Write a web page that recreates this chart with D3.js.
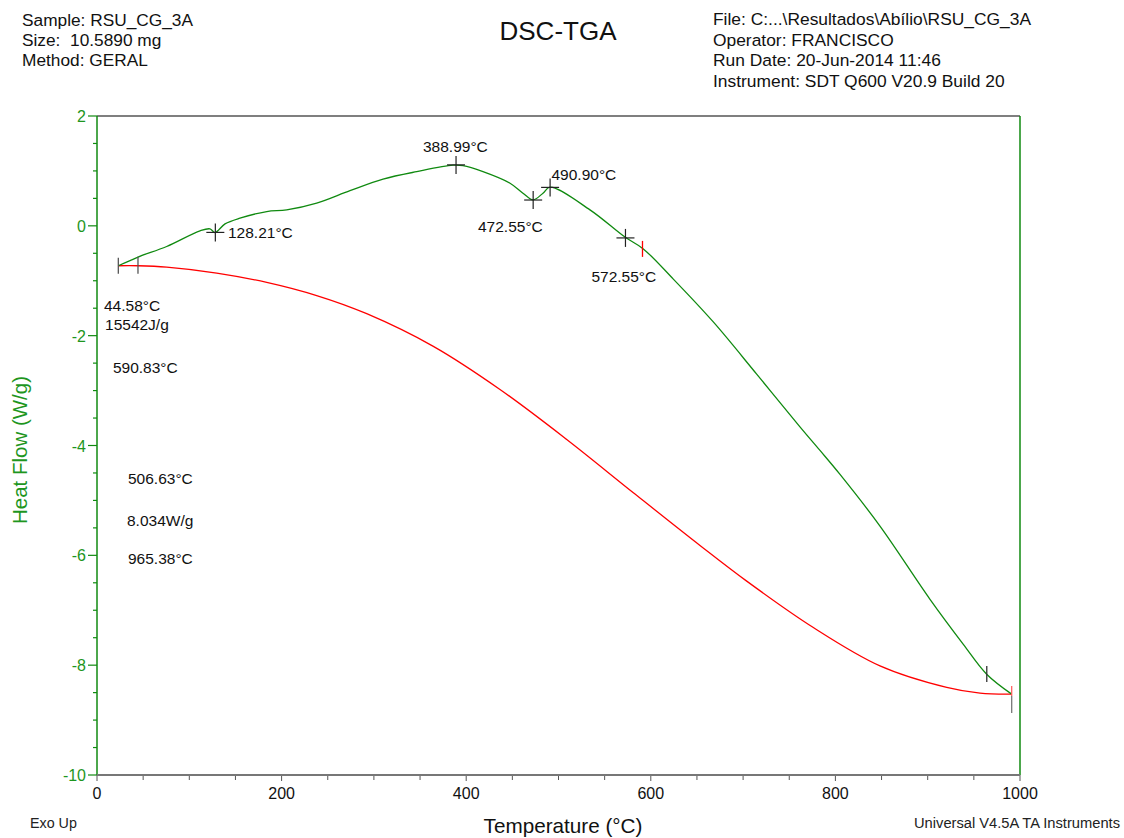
<!DOCTYPE html>
<html>
<head>
<meta charset="utf-8">
<script src="https://cdn.jsdelivr.net/npm/d3@7"></script>
<style>
  body { margin: 0; background: #fff; }
  svg text { font-family: "Liberation Sans", Arial, sans-serif; }
</style>
</head>
<body>
<svg id="chart" width="1124" height="838"></svg>
<script>
// heat flow curve (temperature °C, W/g)
var heatTemp = [23.1, 44.4, 75.5, 111.6, 122.4, 127.8, 138.7, 154.9, 183.9, 205.5, 238, 274.1, 309.9, 346.4,
  385.7, 396.5, 418.2, 447.5, 461.5, 472.4, 483.2, 490.8, 534.1, 572, 591.9, 624.4, 667.7, 714.7, 761.6,
  783.3, 805, 848.3, 902.5, 938.6, 963.9, 991];
var heatFlow = [-0.727, -0.569, -0.376, -0.091, -0.055, -0.122, 0.036, 0.14, 0.26, 0.29, 0.413, 0.64, 0.85, 0.987,
  1.104, 1.096, 0.987, 0.776, 0.595, 0.473, 0.595, 0.704, 0.291, -0.205, -0.42, -0.97, -1.75, -2.70, -3.66,
  -4.09, -4.527, -5.467, -6.8, -7.62, -8.164, -8.527];

// second (red) signal, drawn on the same scale
var redTemp = [22.8, 44.4, 75.5, 129.7, 183.9, 238, 292.2, 364.4, 436.6, 508.9, 581.1, 653.3, 703.9,
  776.1, 848.3, 920.6, 956.7, 991];
var redValue = [-0.727, -0.727, -0.751, -0.86, -1.03, -1.27, -1.6, -2.195, -2.98, -3.89, -4.86, -5.82, -6.47,
  -7.315, -8.013, -8.405, -8.51, -8.527];

// crosshair markers on the heat flow curve
var crossTemp = [128.21, 388.99, 472.55, 490.90, 572.55];
var crossFlow = [-0.12, 1.11, 0.47, 0.70, -0.22];

// annotation texts (left start in data units)
var noteText = ["388.99°C", "128.21°C", "490.90°C", "472.55°C", "572.55°C", "44.58°C", "15542J/g", "590.83°C",
  "506.63°C", "8.034W/g", "965.38°C"];
var noteTemp = [353.2, 141.9, 492.4, 412.8, 535.7, 7.6, 8.7, 17.3, 33.6, 32.5, 33.6];
var noteFlow = [1.345, -0.22, 0.836, -0.109, -1.018, -1.545, -1.891, -2.673, -4.709, -5.473, -6.164];

var xTicks = [0, 200, 400, 600, 800, 1000];
var yTicks = [2, 0, -2, -4, -6, -8, -10];

var green = "#108a10", greenText = "#1e961e", red = "#ff0000";

var svg = d3.select("#chart");
var x = d3.scaleLinear().domain([0, 1000]).range([97, 1020]);
var y = d3.scaleLinear().domain([-10, 2]).range([775, 116]);

// header texts
var left = svg.append("g").attr("font-size", 17.3).attr("fill", "#111");
["Sample: RSU_CG_3A", "Size:  10.5890 mg", "Method: GERAL"].forEach(function (t, i) {
  left.append("text").attr("x", 22).attr("y", 26 + i * 20).attr("xml:space", "preserve").text(t);
});
var right = svg.append("g").attr("font-size", 17.4).attr("fill", "#111");
["File: C:...\\Resultados\\Abílio\\RSU_CG_3A", "Operator: FRANCISCO", "Run Date: 20-Jun-2014 11:46",
  "Instrument: SDT Q600 V20.9 Build 20"].forEach(function (t, i) {
  right.append("text").attr("x", 713).attr("y", 25 + i * 20.5).text(t);
});
svg.append("text").attr("x", 558).attr("y", 40).attr("text-anchor", "middle")
  .attr("font-size", 26).attr("fill", "#111").text("DSC-TGA");

// frame
svg.append("line").attr("x1", 97).attr("x2", 1020).attr("y1", 116).attr("y2", 116)
  .attr("stroke", "#555").attr("stroke-width", 1.5);
svg.append("line").attr("x1", 1020).attr("x2", 1020).attr("y1", 116).attr("y2", 775)
  .attr("stroke", green).attr("stroke-width", 1.5);

// y axis
var yMinor = d3.range(-10, 2.01, 0.5);
var yAxis = svg.append("g").attr("transform", "translate(97,0)");
yAxis.selectAll("line.tick").data(yMinor).enter().append("line")
  .attr("x1", function (d) { return d % 2 === 0 ? -9 : -4; }).attr("x2", 0)
  .attr("y1", function (d) { return y(d); }).attr("y2", function (d) { return y(d); })
  .attr("stroke", green).attr("stroke-width", 1.2);
yAxis.append("line").attr("y1", 116).attr("y2", 775).attr("stroke", green).attr("stroke-width", 1.5);
yAxis.selectAll("text").data(yTicks).enter().append("text")
  .attr("x", -11).attr("y", function (d) { return y(d) + 6; })
  .attr("text-anchor", "end").attr("font-size", 16).attr("fill", greenText)
  .text(function (d) { return d; });
svg.append("text").attr("transform", "translate(27,450) rotate(-90)").attr("text-anchor", "middle")
  .attr("font-size", 20.5).attr("fill", greenText).text("Heat Flow (W/g)");

// x axis
var xAxis = svg.append("g").attr("transform", "translate(0,775)");
xAxis.selectAll("line.tick").data(d3.range(0, 1001, 50)).enter().append("line")
  .attr("x1", function (d) { return x(d); }).attr("x2", function (d) { return x(d); })
  .attr("y1", 0).attr("y2", function (d) { return d % 200 === 0 ? 6 : 5; })
  .attr("stroke", "#555").attr("stroke-width", 1);
xAxis.append("line").attr("x1", 97).attr("x2", 1020).attr("stroke", "#777").attr("stroke-width", 2);
xAxis.selectAll("text").data(xTicks).enter().append("text")
  .attr("x", function (d) { return x(d); }).attr("y", 24)
  .attr("text-anchor", "middle").attr("font-size", 16).attr("fill", "#111")
  .text(function (d) { return d; });
svg.append("text").attr("x", 563).attr("y", 833).attr("text-anchor", "middle")
  .attr("font-size", 20.7).attr("fill", "#111").text("Temperature (°C)");
svg.append("text").attr("x", 30).attr("y", 828).attr("font-size", 14.3).attr("fill", "#222").text("Exo Up");
svg.append("text").attr("x", 1120).attr("y", 828).attr("text-anchor", "end")
  .attr("font-size", 14.7).attr("fill", "#222").text("Universal V4.5A TA Instruments");

// curves
var line = d3.line().curve(d3.curveCatmullRom.alpha(0.5))
  .x(function (d) { return x(d[0]); }).y(function (d) { return y(d[1]); });
svg.append("path").datum(d3.zip(redTemp, redValue)).attr("d", line)
  .attr("fill", "none").attr("stroke", red).attr("stroke-width", 1.3);
svg.append("path").datum(d3.zip(heatTemp, heatFlow)).attr("d", line)
  .attr("fill", "none").attr("stroke", green).attr("stroke-width", 1.3);

// crosshairs
var crosses = svg.append("g").attr("stroke", "#222").attr("stroke-width", 1.2);
d3.zip(crossTemp, crossFlow).forEach(function (c) {
  var cx = x(c[0]), cy = y(c[1]);
  crosses.append("line").attr("x1", cx - 9).attr("x2", cx + 9).attr("y1", cy).attr("y2", cy);
  crosses.append("line").attr("x1", cx).attr("x2", cx).attr("y1", cy - 9).attr("y2", cy + 9);
});

// vertical limit marks
function vmark(t, v, up, down, col) {
  svg.append("line").attr("x1", x(t)).attr("x2", x(t))
    .attr("y1", y(v) - up).attr("y2", y(v) + down)
    .attr("stroke", col).attr("stroke-width", 1.3);
}
vmark(heatTemp[0], heatFlow[0], 8, 8, "#555");
vmark(heatTemp[1], redValue[1], 9, 8, "#555");
vmark(591, -0.42, 8, 8, red);
vmark(964, -8.16, 8, 8, "#333");
vmark(991, -8.527, 8, 2, "#ff6060");
vmark(991, -8.527, -2, 19, "#777");

// annotations
svg.append("g").attr("font-size", 15.5).attr("fill", "#111")
  .selectAll("text").data(d3.zip(noteText, noteTemp, noteFlow)).enter().append("text")
  .attr("x", function (d) { return x(d[1]); }).attr("y", function (d) { return y(d[2]); })
  .text(function (d) { return d[0]; });
</script>
</body>
</html>
